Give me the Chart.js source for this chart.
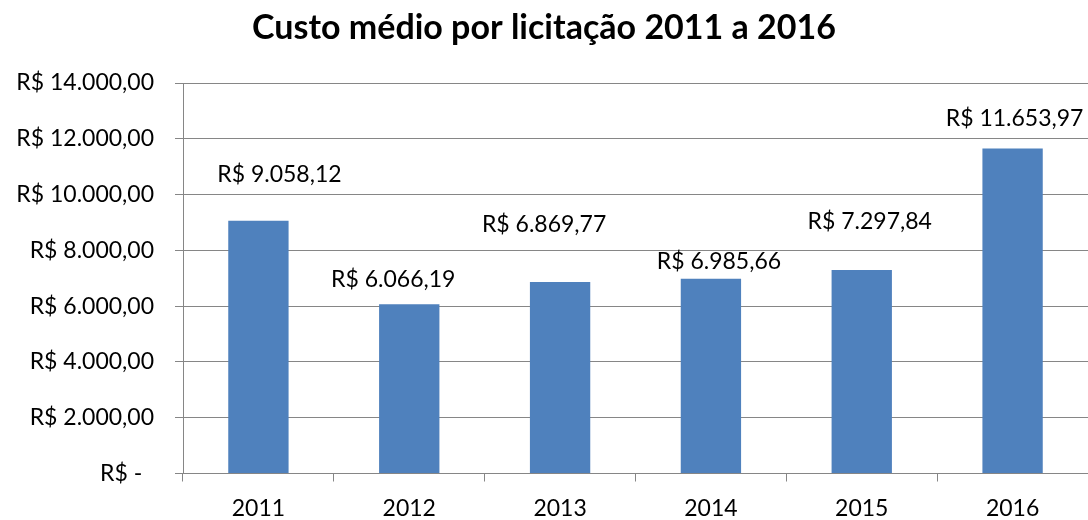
<!DOCTYPE html>
<html lang="pt-BR">
<head>
<meta charset="utf-8">
<title>Custo médio por licitação</title>
<script src="https://cdn.jsdelivr.net/npm/chart.js@4"></script>
<style>
    html, body { margin: 0; padding: 0; background: #ffffff; }
    #wrap { width: 1088px; height: 520px; }
</style>
</head>
<body>
<div id="wrap"><canvas id="custoChart" width="1088" height="520"></canvas></div>
<script>
// Dados
const anos = ['2011', '2012', '2013', '2014', '2015', '2016'];
const custoMedio = [9058.12, 6066.19, 6869.77, 6985.66, 7297.84, 11653.97];
const yTicks = [0, 2000, 4000, 6000, 8000, 10000, 12000, 14000];

// deslocamento dos rótulos (px): [dx, distância acima da barra]
const labelNudge = [[21, 46], [-16, 25], [-16, 57], [8, 17], [8, 48], [2, 30]];

const FONT = 'Lato, "Open Sans", sans-serif';

function formatBRL(v) {
    if (v === 0) return 'R$ -  ';
    return 'R$ ' + v.toLocaleString('pt-BR', { minimumFractionDigits: 2, maximumFractionDigits: 2 });
}

// rótulos de dados desenhados à mão
const valueLabels = {
    id: 'valueLabels',
    afterDatasetsDraw(chart) {
        const ctx = chart.ctx;
        const meta = chart.getDatasetMeta(0);
        ctx.save();
        ctx.font = '23px ' + FONT;
        ctx.fillStyle = '#000000';
        ctx.textAlign = 'center';
        ctx.textBaseline = 'middle';
        meta.data.forEach(function (bar, i) {
            const n = labelNudge[i];
            ctx.fillText(formatBRL(custoMedio[i]), bar.x + n[0], bar.y - n[1]);
        });
        ctx.restore();
    }
};

document.addEventListener("DOMContentLoaded", function () {
    const canvas = document.getElementById('custoChart');
    if (!canvas) {
        console.error("Elemento custoChart não encontrado.");
        return;
    }
    const ctx = canvas.getContext('2d');
    new Chart(ctx, {
        type: 'bar',
        data: {
            labels: anos,
            datasets: [{
                label: 'Custo médio',
                data: custoMedio,
                backgroundColor: '#4F81BD',
                borderWidth: 0,
                barPercentage: 0.4,
                categoryPercentage: 1.0
            }]
        },
        options: {
            responsive: false,
            animation: false,
            layout: { padding: 0 },
            plugins: {
                legend: { display: false },
                tooltip: { enabled: false },
                title: {
                    display: true,
                    text: 'Custo médio por licitação 2011 a 2016',
                    color: '#000000',
                    font: { family: FONT, size: 34, weight: 'bold' },
                    padding: { top: 8, bottom: 34.2 }
                }
            },
            scales: {
                y: {
                    min: 0,
                    max: 14000,
                    afterBuildTicks(scale) {
                        scale.ticks = yTicks.map(function (v) { return { value: v }; });
                    },
                    afterFit(scale) { scale.width = 183; },
                    ticks: {
                        color: '#000000',
                        font: { family: FONT, size: 23 },
                        padding: 21,
                        callback: function (v) { return formatBRL(v); }
                    },
                    grid: {
                        color: '#868686',
                        lineWidth: 1,
                        tickLength: 8
                    },
                    border: { color: '#868686', width: 1 }
                },
                x: {
                    afterFit(scale) { scale.height = 46.5; },
                    ticks: {
                        color: '#000000',
                        font: { family: FONT, size: 23 },
                        padding: 13
                    },
                    grid: {
                        drawOnChartArea: false,
                        color: '#868686',
                        tickLength: 8,
                        offset: true
                    },
                    border: { color: '#868686', width: 1 }
                }
            }
        },
        plugins: [valueLabels]
    });
});
</script>
</body>
</html>
